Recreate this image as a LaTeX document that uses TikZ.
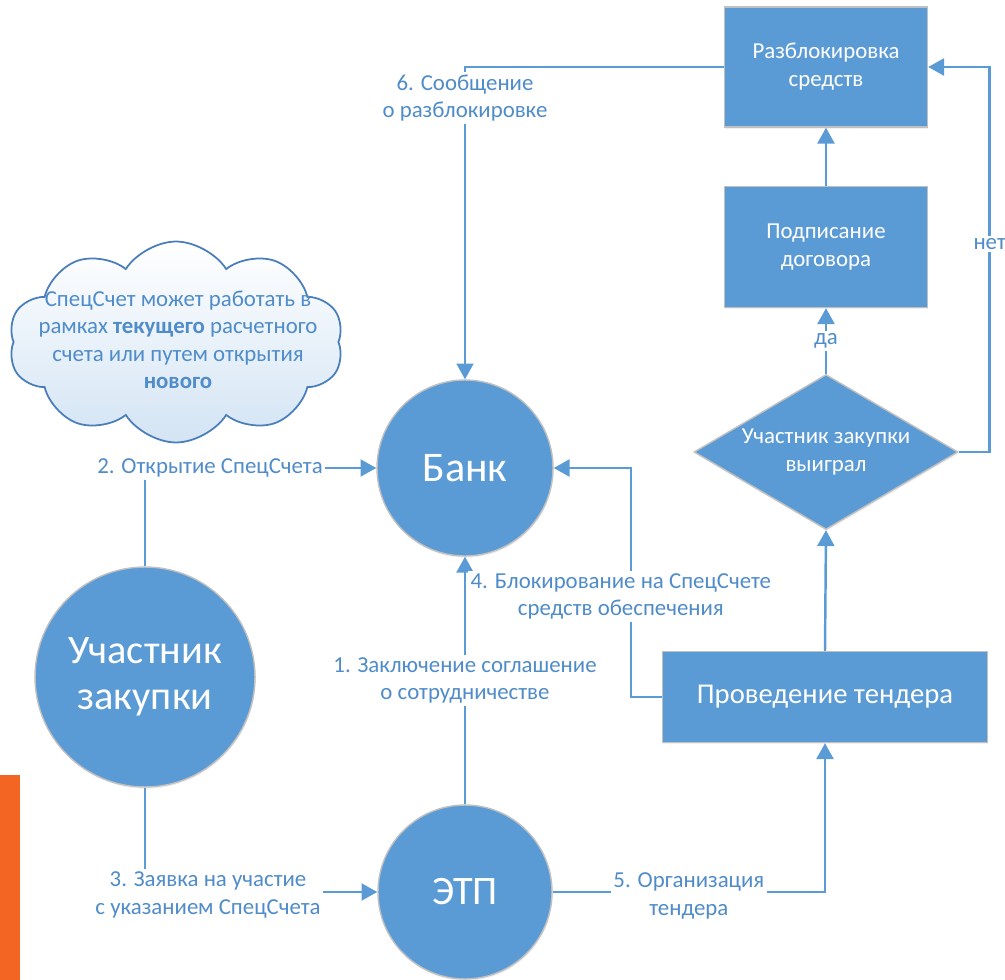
\documentclass[tikz,border=0pt]{standalone}
\usepackage{fontspec}
\setmainfont{Carlito}
\usetikzlibrary{shapes.geometric,shapes.symbols,arrows.meta,shadows}
\definecolor{boxblue}{HTML}{5B9BD5}
\definecolor{lineblue}{HTML}{5B9BD5}
\definecolor{txtblue}{HTML}{4F8CC9}
\definecolor{edgegray}{HTML}{C0C0C0}
\definecolor{cloudline}{HTML}{4A7EBB}
\definecolor{cloudblue}{HTML}{D3E4F4}
\definecolor{slideorange}{HTML}{F26522}

\begin{document}
\begin{tikzpicture}[x=0.02cm,y=-0.02cm,
  blockbase/.style={fill=boxblue,draw=edgegray,line width=0.8pt,text=white,align=center,inner sep=0pt,
    drop shadow={shadow xshift=0.4pt,shadow yshift=-1pt,opacity=0.12}},
  actor/.style={blockbase,circle},
  box/.style={blockbase,rectangle,font=\fontsize{13}{16}\selectfont},
  conn/.style={draw=lineblue,line width=1.4pt,-{Triangle[width=9.6pt,length=9pt]}},
  lbl/.style={fill=white,text=txtblue,inner sep=1.5pt,align=center,font=\fontsize{13}{15.5}\selectfont}]
\useasboundingbox (0,0) rectangle (1005,980);

\fill[slideorange] (0,775) rectangle (20,980);

\node[cloud,cloud puffs=10,cloud puff arc=115,aspect=1.67,draw=cloudline,line width=1pt,top color=white,bottom color=cloudblue,
  minimum width=6.7cm,minimum height=4.02cm] (cloud) at (176,342) {};
\node[text=txtblue,align=center,font=\fontsize{13}{15.6}\selectfont] (note) at (178,340)
  {СпецСчет может работать в\\рамках \textbf{текущего} расчетного\\счета или путем открытия\\\textbf{нового}};

\node[actor,minimum size=3.52cm,font=\fontsize{24}{28}\selectfont] (bank) at (465,468) {Банк};
\node[actor,minimum size=4.4cm,font=\fontsize{23}{26.5}\selectfont] (part) at (145,677) {Участник\\закупки};
\node[actor,minimum size=3.48cm,font=\fontsize{23}{28}\selectfont] (etp) at (465,892) {ЭТП};

\node[box,minimum width=4.06cm,minimum height=2.4cm] (unblock) at (826,67) {Разблокировка\\средств};
\node[box,minimum width=4.06cm,minimum height=2.42cm] (sign) at (826,247) {Подписание\\договора};
\node[blockbase,diamond,aspect=1.7,minimum width=5.28cm,minimum height=3.1cm,
  font=\fontsize{13}{16}\selectfont] (won) at (826,452) {Участник закупки\\выиграл};
\node[box,minimum width=6.5cm,minimum height=1.82cm,font=\fontsize{16.3}{19}\selectfont] (tender) at (825,697) {Проведение тендера};

\draw[conn] (etp.north) -- node[lbl] (l1) {1. Заключение соглашение\\о сотрудничестве} (bank.south);
\draw[conn] (part.north) |- node[lbl,pos=0.5,xshift=1.3cm] (l2) {2. Открытие СпецСчета} (bank.west);
\draw[conn] (part.south) |- node[lbl,pos=0.5,xshift=1.26cm,yshift=-0.06cm] (l3) {3. Заявка на участие\\с указанием СпецСчета} (etp.west);
\draw[conn] (tender.west) -- ++(-31,0) |- node[lbl,pos=0.22,xshift=-0.2cm] (l4) {4. Блокирование на СпецСчете\\средств обеспечения} (bank.east);
\draw[conn] (etp.east) -| node[lbl,pos=0.25,yshift=-0.08cm] (l5) {5. Организация\\тендера} (tender.south);
\draw[conn] (unblock.west) -| node[lbl,pos=0.55] (l6) {6. Сообщение\\о разблокировке} (bank.north);

\draw[conn] (tender.north) -- (won.south);
\draw[conn] (won.north) -- node[lbl] (yes) {да} (sign.south);
\draw[conn] (won.east) -- ++(31,0) |- node[lbl,pos=0.27] (no) {нет} (unblock.east);
\draw[conn] (sign.north) -- (unblock.south);
\end{tikzpicture}
\end{document}
